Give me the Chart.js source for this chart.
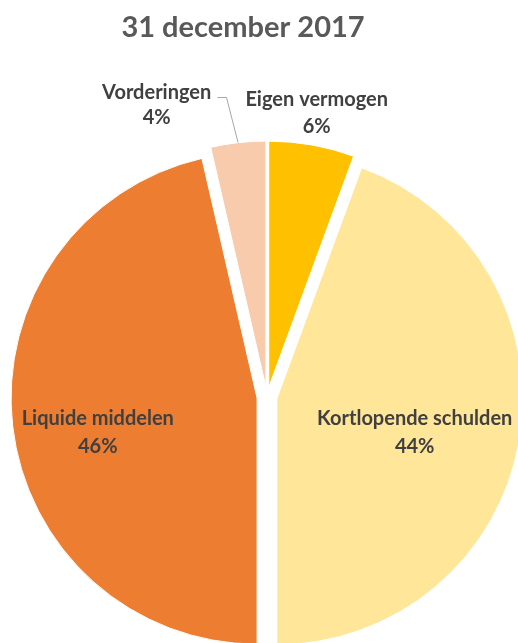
<!DOCTYPE html>
<html><head><meta charset="utf-8">
<script src="https://cdn.jsdelivr.net/npm/chart.js@4/dist/chart.umd.min.js"></script>
<style>html,body{margin:0;padding:0;background:#fff;overflow:hidden}#wrap{position:relative;width:518px;height:643px}</style>
</head><body><div id="wrap"><canvas id="c" width="518" height="643"></canvas></div>
<script>
const chartTitle = '31 december 2017';
const categories = ['Eigen vermogen', 'Kortlopende schulden', 'Liquide middelen', 'Vorderingen'];
const values = [5.6, 44.4, 46.4, 3.6];
const colors = ['#FFC000', '#FFE699', '#ED7D31', '#F8CBAD'];

// layout / style constants
const FONT = "Lato, 'Open Sans', sans-serif";
const EXPLODE = 10;
const LABEL_POS = [ [316.7, 106, 133], [414.7, 425, 453], [97.8, 425, 453], [156.7, 99, 124] ];

const total = values.reduce((a, b) => a + b, 0);
const pctLabels = values.map(v => Math.round(v / total * 100) + '%');

const explode = {
  id: 'explode',
  afterDatasetUpdate(chart, args) {
    args.meta.data.forEach(arc => {
      if (arc.__wrapped) return;
      arc.__wrapped = true;
      const base = Object.getPrototypeOf(arc).draw;
      arc.draw = function (ctx) {
        const m = (this.startAngle + this.endAngle) / 2;
        ctx.save();
        ctx.translate(Math.cos(m) * EXPLODE, Math.sin(m) * EXPLODE);
        base.call(this, ctx);
        ctx.restore();
      };
    });
  }
};

const texts = {
  id: 'texts',
  afterDraw(chart) {
    const ctx = chart.ctx;
    ctx.save();
    ctx.textAlign = 'center';
    ctx.textBaseline = 'alphabetic';
    ctx.fillStyle = '#595959';
    ctx.font = 'bold 29px ' + FONT;
    ctx.fillText(chartTitle, 243, 37);

    // leader line for Vorderingen
    const meta = chart.getDatasetMeta(0);
    const arc = meta.data[3];
    const m = (arc.startAngle + arc.endAngle) / 2;
    const cx = arc.x + Math.cos(m) * EXPLODE, cy = arc.y + Math.sin(m) * EXPLODE;
    const ex = cx + Math.cos(m) * arc.outerRadius, ey = cy + Math.sin(m) * arc.outerRadius;
    ctx.strokeStyle = '#A6A6A6';
    ctx.lineWidth = 1;
    ctx.beginPath();
    ctx.moveTo(217.5, 97.5);
    ctx.lineTo(226.5, 97.5);
    ctx.lineTo(ex, ey);
    ctx.stroke();

    ctx.fillStyle = '#404040';
    ctx.font = 'bold 20px ' + FONT;
    categories.forEach((c, i) => {
      const p = LABEL_POS[i];
      ctx.fillText(c, p[0], p[1]);
      ctx.fillText(pctLabels[i], p[0], p[2]);
    });
    ctx.restore();
  }
};

new Chart(document.getElementById('c'), {
  type: 'pie',
  data: {
    labels: categories,
    datasets: [{
      data: values,
      backgroundColor: colors,
      borderColor: '#FFFFFF',
      borderWidth: 1,
      offset: 0,
      hoverOffset: 0
    }]
  },
  options: {
    responsive: false,
    animation: false,
    radius: 246,
    clip: false,
    layout: { padding: { left: 16, right: 0, top: 151, bottom: 0 } },
    plugins: { legend: { display: false }, title: { display: false }, tooltip: { enabled: false } },
    events: []
  },
  plugins: [explode, texts]
});
</script>
</body></html>
